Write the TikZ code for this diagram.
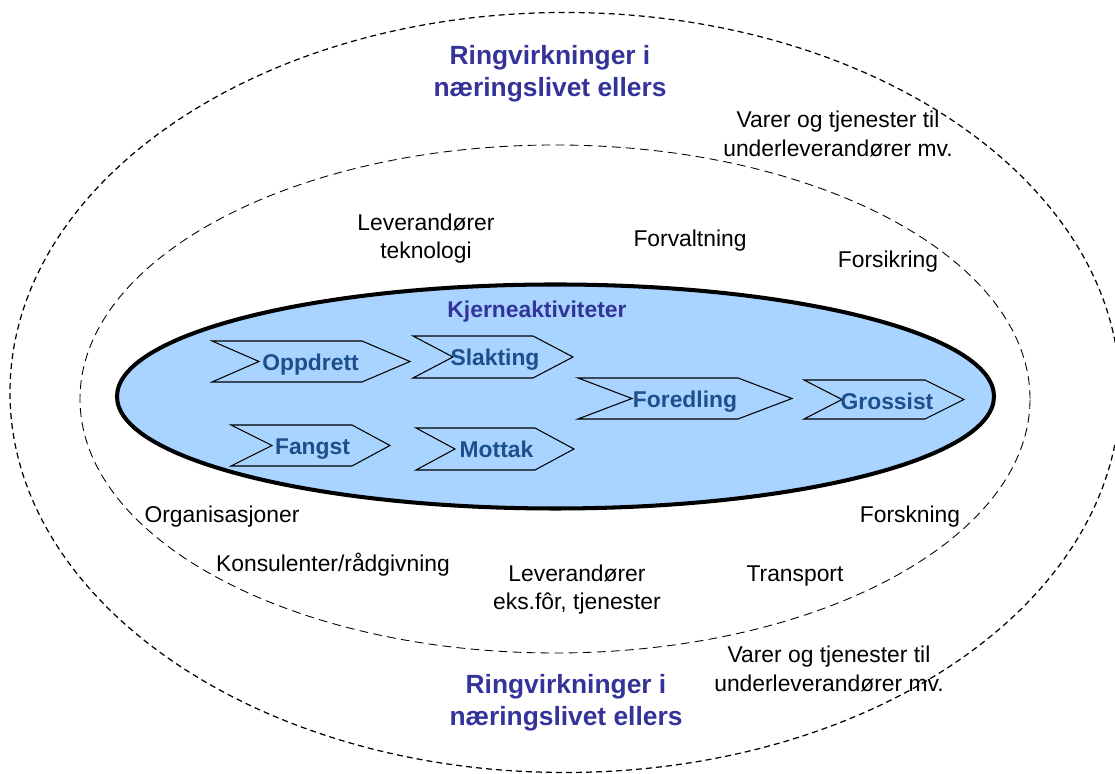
\documentclass[tikz,border=0pt]{standalone}
\usepackage{fontspec}
\setmainfont{Liberation Sans}
\definecolor{coreblue}{HTML}{A8D4FF}
\definecolor{chevtextblue}{HTML}{1D4F8C}
\definecolor{titleblue}{HTML}{333399}

\begin{document}
\begin{tikzpicture}
% Styles
\tikzset{
    outerring/.style={line width=0.7pt, dash pattern=on 3.4pt off 2.3pt},
    innerring/.style={line width=0.5pt, dash pattern=on 5pt off 3pt},
    coreoval/.style={line width=2.3pt, fill=coreblue},
    chev/.style={draw=black, line width=0.6pt},
    chevlabel/.style={font=\fontsize{13}{15}\selectfont\bfseries, text=chevtextblue, inner sep=0pt},
    ringtitle/.style={font=\fontsize{15}{18}\selectfont\bfseries, text=titleblue, align=center, inner sep=0pt},
    actor/.style={font=\fontsize{13}{16}\selectfont, align=center, inner sep=0pt}
}

% Frame
\useasboundingbox (0,0) rectangle (22.3,15.48);
\clip (0,0) rectangle (22.3,15.48);

% Rings
\draw[outerring] (11.30,7.63) ellipse (11.10 and 7.60);
\draw[innerring] (11.10,7.50) ellipse (9.50 and 5.08);
\draw[coreoval] (11.11,7.55) ellipse (8.77 and 2.24);

% Chevrons
\draw[chev] (4.24,8.66) -- (7.24,8.66) -- (8.20,8.25) -- (7.24,7.84) -- (4.24,7.84) -- (5.18,8.25) -- cycle;
\draw[chev] (8.26,8.76) -- (10.66,8.76) -- (11.46,8.34) -- (10.66,7.92) -- (8.26,7.92) -- (9.06,8.34) -- cycle;
\draw[chev] (4.62,6.98) -- (7.04,6.98) -- (7.80,6.57) -- (7.04,6.16) -- (4.62,6.16) -- (5.44,6.57) -- cycle;
\draw[chev] (8.32,6.92) -- (10.70,6.92) -- (11.48,6.50) -- (10.70,6.08) -- (8.32,6.08) -- (9.10,6.50) -- cycle;
\draw[chev] (11.56,7.92) -- (14.76,7.92) -- (15.84,7.51) -- (14.76,7.10) -- (11.56,7.10) -- (12.64,7.51) -- cycle;
\draw[chev] (16.08,7.88) -- (18.50,7.88) -- (19.28,7.49) -- (18.50,7.10) -- (16.08,7.10) -- (16.84,7.49) -- cycle;

\node[chevlabel] (Oppdrett) at (6.21,8.19) {Oppdrett};
\node[chevlabel] (Slakting) at (9.90,8.28) {Slakting};
\node[chevlabel] (Fangst) at (6.25,6.50) {Fangst};
\node[chevlabel] (Mottak) at (9.93,6.49) {Mottak};
\node[chevlabel] (Foredling) at (13.70,7.45) {Foredling};
\node[chevlabel] (Grossist) at (17.74,7.46) {Grossist};

% Labels
\node[chevlabel, text=titleblue] (Kjerne) at (10.74,9.24) {Kjerneaktiviteter};
\node[ringtitle] (RingTop) at (11.00,14.00) {Ringvirkninger i\\næringslivet ellers};
\node[ringtitle] (RingBot) at (11.32,1.42) {Ringvirkninger i\\næringslivet ellers};

\node[actor] (VarerTop) at (16.76,12.80) {Varer og tjenester til\\underleverandører mv.};
\node[actor] (VarerBot) at (16.58,2.10) {Varer og tjenester til\\underleverandører mv.};
\node[actor] (LevTek) at (8.52,10.70) {Leverandører\\teknologi};
\node[actor] (Forvaltning) at (13.80,10.66) {Forvaltning};
\node[actor] (Forsikring) at (17.76,10.24) {Forsikring};
\node[actor] (Organisasjoner) at (4.44,5.14) {Organisasjoner};
\node[actor] (Konsulenter) at (6.66,4.18) {Konsulenter/rådgivning};
\node[actor] (LevEks) at (11.54,3.68) {Leverandører\\eks.fôr, tjenester};
\node[actor] (Transport) at (15.90,3.96) {Transport};
\node[actor] (Forskning) at (18.20,5.14) {Forskning};
\end{tikzpicture}
\end{document}
